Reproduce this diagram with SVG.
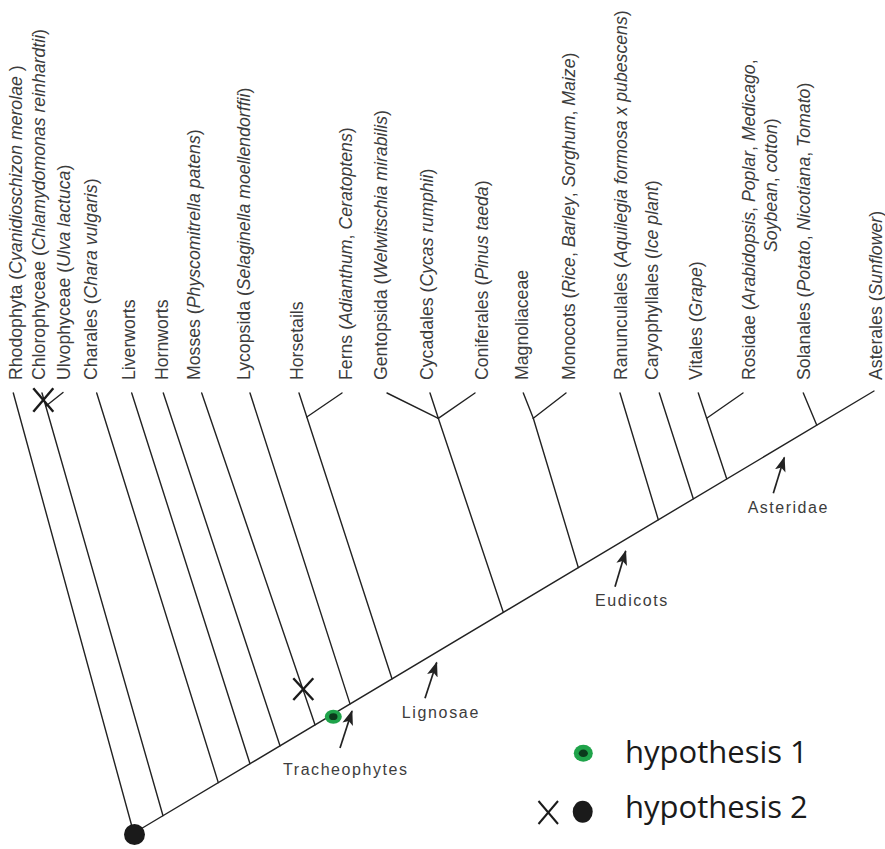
<svg xmlns="http://www.w3.org/2000/svg" width="885" height="849" viewBox="0 0 885 849">
<defs>
<style>
.br{stroke:#222;stroke-width:1.4;fill:none;stroke-linecap:round}
.lab{font-family:"Liberation Sans",Arial,sans-serif;font-size:17.7px;fill:#3c3c3c}
.it{font-style:italic}
.cl{font-family:"Liberation Sans",Arial,sans-serif;font-size:16px;fill:#3c3c3c}
.leg{font-family:"Open Sans","Noto Sans",sans-serif;font-size:31px;fill:#1a1a1a}
.xm{stroke:#1a1a1a;stroke-width:2.4;fill:none}
.ar{stroke:#222;stroke-width:1.7;fill:none}
</style>
<marker id="ah" markerUnits="userSpaceOnUse" markerWidth="16" markerHeight="12" refX="14" refY="6" orient="auto">
<path d="M0,0.5 L15,6 L0,11.5 L3.5,6 Z" fill="#222"/>
</marker>
</defs>

<g id="connectors">
<line class="br" x1="134" y1="833" x2="874" y2="391"/>
<line class="br" x1="13.3" y1="393" x2="134" y2="834"/>
<line class="br" x1="42" y1="393" x2="163" y2="815.7"/>
<line class="br" x1="63" y1="392.5" x2="46" y2="406"/>
<line class="br" x1="96.7" y1="393" x2="218.3" y2="782.6"/>
<line class="br" x1="131.7" y1="393" x2="250" y2="763.7"/>
<line class="br" x1="163.3" y1="393" x2="280" y2="745.8"/>
<line class="br" x1="201.7" y1="393" x2="315" y2="724.8"/>
<line class="br" x1="250" y1="393" x2="350" y2="703.9"/>
<line class="br" x1="299" y1="393" x2="392" y2="678.8"/>
<line class="br" x1="342" y1="393" x2="306.8" y2="417"/>
<line class="br" x1="387" y1="393" x2="438.3" y2="418.3"/>
<line class="br" x1="430" y1="393" x2="438.3" y2="418.3"/>
<line class="br" x1="475" y1="393" x2="438.3" y2="418.3"/>
<line class="br" x1="438.3" y1="418.3" x2="503.3" y2="612.3"/>
<line class="br" x1="523.3" y1="393" x2="533.3" y2="418.3"/>
<line class="br" x1="566" y1="393" x2="533.3" y2="418.3"/>
<line class="br" x1="533.3" y1="418.3" x2="578.3" y2="567.5"/>
<line class="br" x1="620" y1="393" x2="658.3" y2="519.7"/>
<line class="br" x1="659.3" y1="393" x2="693.3" y2="498.8"/>
<line class="br" x1="698.3" y1="393" x2="726.7" y2="478.8"/>
<line class="br" x1="743" y1="393" x2="706.7" y2="418.3"/>
<line class="br" x1="803.3" y1="393" x2="816.7" y2="425"/>
<line class="ar" x1="340" y1="748" x2="352" y2="711" marker-end="url(#ah)"/>
<line class="ar" x1="425" y1="698.3" x2="436.7" y2="662.5" marker-end="url(#ah)"/>
<line class="ar" x1="615" y1="586.7" x2="625.7" y2="551" marker-end="url(#ah)"/>
<line class="ar" x1="773.3" y1="493.3" x2="784.3" y2="457.5" marker-end="url(#ah)"/>
</g>

<g id="labels">
<text class="lab" transform="translate(21.7,380) rotate(-90)">Rhodophyta (<tspan class="it">Cyanidioschizon merolae</tspan> )</text>
<text class="lab" transform="translate(45,380) rotate(-90)">Chlorophyceae (<tspan class="it">Chlamydomonas reinhardtii</tspan>)</text>
<text class="lab" transform="translate(70,380) rotate(-90)">Ulvophyceae (<tspan class="it">Ulva lactuca</tspan>)</text>
<text class="lab" transform="translate(96.7,380) rotate(-90)">Charales (<tspan class="it">Chara vulgaris</tspan>)</text>
<text class="lab" transform="translate(135,380) rotate(-90)">Liverworts</text>
<text class="lab" transform="translate(168.3,380) rotate(-90)">Hornworts</text>
<text class="lab" transform="translate(200,380) rotate(-90)">Mosses (<tspan class="it">Physcomitrella patens</tspan>)</text>
<text class="lab" transform="translate(250,380) rotate(-90)">Lycopsida (<tspan class="it">Selaginella moellendorffii</tspan>)</text>
<text class="lab" transform="translate(303,380) rotate(-90)">Horsetails</text>
<text class="lab" transform="translate(351.7,380) rotate(-90)">Ferns (<tspan class="it">Adianthum</tspan>, <tspan class="it">Ceratoptens</tspan>)</text>
<text class="lab" transform="translate(386.7,380) rotate(-90)">Gentopsida (<tspan class="it">Welwitschia mirabilis</tspan>)</text>
<text class="lab" transform="translate(433.3,380) rotate(-90)">Cycadales (<tspan class="it">Cycas rumphii</tspan>)</text>
<text class="lab" transform="translate(488.3,380) rotate(-90)">Coniferales (<tspan class="it">Pinus taeda</tspan>)</text>
<text class="lab" transform="translate(528.3,380) rotate(-90)">Magnoliaceae</text>
<text class="lab" transform="translate(575,380) rotate(-90)">Monocots (<tspan class="it">Rice</tspan>, <tspan class="it">Barley</tspan>, <tspan class="it">Sorghum</tspan>, <tspan class="it">Maize</tspan>)</text>
<text class="lab" transform="translate(626.7,380) rotate(-90)">Ranunculales (<tspan class="it">Aquilegia formosa x pubescens</tspan>)</text>
<text class="lab" transform="translate(658.3,380) rotate(-90)">Caryophyllales (<tspan class="it">Ice plant</tspan>)</text>
<text class="lab" transform="translate(701.7,380) rotate(-90)">Vitales (<tspan class="it">Grape</tspan>)</text>
<text class="lab" transform="translate(755,380) rotate(-90)">Rosidae (<tspan class="it">Arabidopsis</tspan>, <tspan class="it">Poplar</tspan>, <tspan class="it">Medicago</tspan>,</text>
<text class="lab" transform="translate(777,252) rotate(-90)"><tspan class="it">Soybean</tspan>, <tspan class="it">cotton</tspan>)</text>
<text class="lab" transform="translate(810,380) rotate(-90)">Solanales (<tspan class="it">Potato</tspan>, <tspan class="it">Nicotiana</tspan>, <tspan class="it">Tomato</tspan>)</text>
<text class="lab" transform="translate(881.7,380) rotate(-90)">Asterales (<tspan class="it">Sunflower</tspan>)</text>
</g>

<g id="clade-labels">
<text class="cl" x="283" y="775" textLength="124" lengthAdjust="spacing">Tracheophytes</text>
<text class="cl" x="401.7" y="718" textLength="76.6" lengthAdjust="spacing">Lignosae</text>
<text class="cl" x="595" y="606" textLength="72.3" lengthAdjust="spacing">Eudicots</text>
<text class="cl" x="747.7" y="513.3" textLength="79.6" lengthAdjust="spacing">Asteridae</text>
</g>

<g id="markers">
<g id="x-chloro"><line class="xm" x1="33.3" y1="388.3" x2="53.3" y2="411.7"/><line class="xm" x1="53.3" y1="388.3" x2="33.3" y2="411.7"/></g>
<g id="x-mosses"><line class="xm" x1="293.3" y1="678.3" x2="313.3" y2="700"/><line class="xm" x1="313.3" y1="678.3" x2="293.3" y2="700"/></g>
<g id="dot-trach"><ellipse cx="333.3" cy="716.7" rx="8.5" ry="7" fill="#1fa34a"/><ellipse cx="333.3" cy="716.7" rx="4.2" ry="3.4" fill="#0b3a1c"/></g>
<circle id="root-dot" cx="134.5" cy="834.5" r="10.5" fill="#1a1a1a"/>
</g>

<g id="legend">
<ellipse cx="583.3" cy="753.3" rx="9.5" ry="8.5" fill="#1fa34a"/>
<ellipse cx="583.3" cy="753.3" rx="4.6" ry="3.7" fill="#0b3a1c"/>
<text class="leg" x="625" y="763">hypothesis 1</text>
<line class="xm" x1="538.5" y1="801" x2="558" y2="824" style="stroke-width:2"/>
<line class="xm" x1="558" y1="801" x2="538.5" y2="824" style="stroke-width:2"/>
<ellipse cx="582.7" cy="811.7" rx="10" ry="11" fill="#1a1a1a"/>
<text class="leg" x="625" y="818">hypothesis 2</text>
</g>
</svg>
